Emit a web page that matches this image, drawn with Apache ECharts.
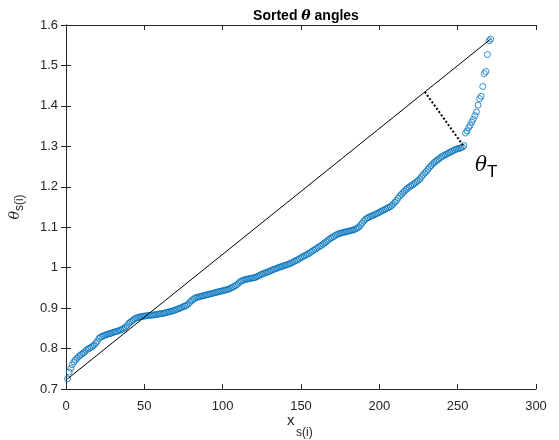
<!DOCTYPE html>
<html>
<head>
<meta charset="utf-8">
<script src="https://cdn.jsdelivr.net/npm/echarts@6/dist/echarts.min.js"></script>
<style>
  html, body { margin: 0; padding: 0; background: #fff; }
  #chart { width: 559px; height: 440px; }
</style>
</head>
<body>
<div id="chart"></div>
<script>
// sorted theta values, index 1..N
const thetaSorted = [
  0.725, 0.742, 0.751, 0.760, 0.767, 0.772, 0.776, 0.780, 0.783, 0.786,
  0.789, 0.792, 0.796, 0.799, 0.801, 0.803, 0.806, 0.809, 0.813, 0.818,
  0.825, 0.828, 0.830, 0.832, 0.833, 0.835, 0.836, 0.837, 0.838, 0.840,
  0.841, 0.842, 0.843, 0.845, 0.846, 0.848, 0.850, 0.853, 0.857, 0.862,
  0.865, 0.868, 0.871, 0.874, 0.876, 0.877, 0.878, 0.879, 0.880, 0.880,
  0.881, 0.881, 0.882, 0.882, 0.883, 0.883, 0.884, 0.884, 0.885, 0.886,
  0.886, 0.887, 0.888, 0.889, 0.890, 0.891, 0.892, 0.893, 0.894, 0.896,
  0.897, 0.899, 0.900, 0.902, 0.904, 0.905, 0.907, 0.910, 0.914, 0.918,
  0.921, 0.924, 0.926, 0.927, 0.928, 0.929, 0.930, 0.931, 0.932, 0.933,
  0.934, 0.935, 0.936, 0.937, 0.938, 0.939, 0.940, 0.941, 0.942, 0.943,
  0.944, 0.945, 0.946, 0.947, 0.949, 0.951, 0.953, 0.955, 0.958, 0.961,
  0.965, 0.967, 0.969, 0.970, 0.971, 0.972, 0.973, 0.974, 0.974, 0.975,
  0.976, 0.978, 0.980, 0.982, 0.984, 0.985, 0.987, 0.988, 0.990, 0.991,
  0.993, 0.995, 0.996, 0.998, 0.999, 1.001, 1.002, 1.003, 1.005, 1.006,
  1.007, 1.009, 1.010, 1.012, 1.014, 1.016, 1.018, 1.020, 1.022, 1.025,
  1.027, 1.029, 1.031, 1.033, 1.035, 1.038, 1.040, 1.043, 1.045, 1.048,
  1.050, 1.053, 1.055, 1.058, 1.061, 1.064, 1.067, 1.070, 1.073, 1.075,
  1.077, 1.080, 1.082, 1.084, 1.085, 1.086, 1.087, 1.088, 1.089, 1.090,
  1.091, 1.092, 1.093, 1.094, 1.096, 1.098, 1.101, 1.105, 1.110, 1.115,
  1.119, 1.122, 1.124, 1.126, 1.128, 1.129, 1.131, 1.133, 1.135, 1.137,
  1.139, 1.141, 1.143, 1.145, 1.147, 1.149, 1.151, 1.154, 1.158, 1.162,
  1.166, 1.172, 1.177, 1.181, 1.185, 1.189, 1.193, 1.196, 1.199, 1.202,
  1.204, 1.207, 1.210, 1.213, 1.216, 1.220, 1.225, 1.230, 1.234, 1.238,
  1.243, 1.248, 1.252, 1.256, 1.260, 1.263, 1.266, 1.269, 1.272, 1.275,
  1.277, 1.279, 1.281, 1.283, 1.285, 1.287, 1.289, 1.291, 1.293, 1.294,
  1.295, 1.296, 1.298, 1.302,
  1.333, 1.338, 1.346, 1.352, 1.360, 1.367, 1.376, 1.385, 1.402, 1.418,
  1.424, 1.448, 1.480, 1.485, 1.527, 1.561, 1.565
];

// dotted distance segment from the chord to the threshold point
const thresholdSegment = [[229, 1.435], [253.5, 1.302]];

const xTickStep = 50;
const yTickStep = 0.1;

const axisColor = '#262626';
const blue = '#0072BD';

const chart = echarts.init(document.getElementById('chart'));

const points = thetaSorted.map((v, i) => [i + 1, v]);
const chord = [points[0], points[points.length - 1]];

const boxAxis = {
  axisLine: { show: true, lineStyle: { color: axisColor, width: 1 } },
  axisTick: { show: true, inside: true, length: 5, lineStyle: { color: axisColor } },
  splitLine: { show: false },
};

chart.setOption({
  animation: false,
  title: {
    text: '{b|Sorted }{t|θ}{b| angles}',
    left: 301,
    top: 4,
    textAlign: 'center',
    textStyle: {
      rich: {
        b: { fontFamily: 'Liberation Sans', fontSize: 14, fontWeight: 'bold', color: '#000' },
        t: { fontFamily: 'DejaVu Serif', fontSize: 14, fontStyle: 'italic', color: '#000' },
      },
    },
  },
  grid: { left: 66, right: 23, top: 25, bottom: 51 },
  xAxis: [
    Object.assign({}, boxAxis, {
      type: 'value', min: 0, max: 300, interval: xTickStep, position: 'bottom',
      axisLabel: { color: axisColor, fontFamily: 'Liberation Sans', fontSize: 13, margin: 11 },
    }),
    Object.assign({}, boxAxis, {
      type: 'value', min: 0, max: 300, interval: xTickStep, position: 'top',
      axisLabel: { show: false },
    }),
  ],
  yAxis: [
    Object.assign({}, boxAxis, {
      type: 'value', min: 0.7, max: 1.6, interval: yTickStep, position: 'left',
      name: '{m|θ}{s|s(i)}',
      nameLocation: 'middle',
      nameGap: 40,
      nameTextStyle: {
        rich: {
          m: { fontFamily: 'DejaVu Serif', fontSize: 14, fontStyle: 'italic', color: axisColor },
          s: { fontFamily: 'Liberation Sans', fontSize: 12, color: axisColor, padding: [10, 0, 0, 0] },
        },
      },
      axisLabel: {
        color: axisColor, fontFamily: 'Liberation Sans', fontSize: 13, margin: 8,
        formatter: (v) => String(Math.round(v * 10) / 10),
      },
    }),
    Object.assign({}, boxAxis, {
      type: 'value', min: 0.7, max: 1.6, interval: yTickStep, position: 'right',
      axisLabel: { show: false },
    }),
  ],
  series: [
    {
      type: 'scatter',
      data: points,
      symbol: 'circle',
      symbolSize: 6,
      itemStyle: { color: 'rgba(0,0,0,0)', borderColor: blue, borderWidth: 1 },
      emphasis: { disabled: true },
      z: 2,
    },
    {
      type: 'line',
      data: chord,
      symbol: 'none',
      lineStyle: { color: '#000', width: 1 },
      emphasis: { disabled: true },
      z: 3,
    },
    {
      type: 'line',
      data: thresholdSegment,
      symbol: 'none',
      lineStyle: { color: '#000', width: 2, type: [2, 2] },
      emphasis: { disabled: true },
      z: 3,
    },
  ],
  graphic: [
    // x axis name: x with subscript s(i)
    {
      type: 'text',
      x: 287, y: 413,
      style: { text: 'x', fontFamily: 'Liberation Sans', fontSize: 15, fill: axisColor },
    },
    {
      type: 'text',
      x: 296, y: 427,
      style: { text: 's(i)', fontFamily: 'Liberation Sans', fontSize: 12, fill: axisColor },
    },
    {
      type: 'text',
      x: 475, y: 150,
      style: {
        text: '{m|θ}{s|T}',
        rich: {
          m: { fontFamily: 'DejaVu Serif', fontSize: 20, fontStyle: 'italic', color: '#000' },
          s: { fontFamily: 'Liberation Sans', fontSize: 17, color: '#000', padding: [14, 0, 0, 0] },
        },
      },
    },
  ],
});
</script>
</body>
</html>
